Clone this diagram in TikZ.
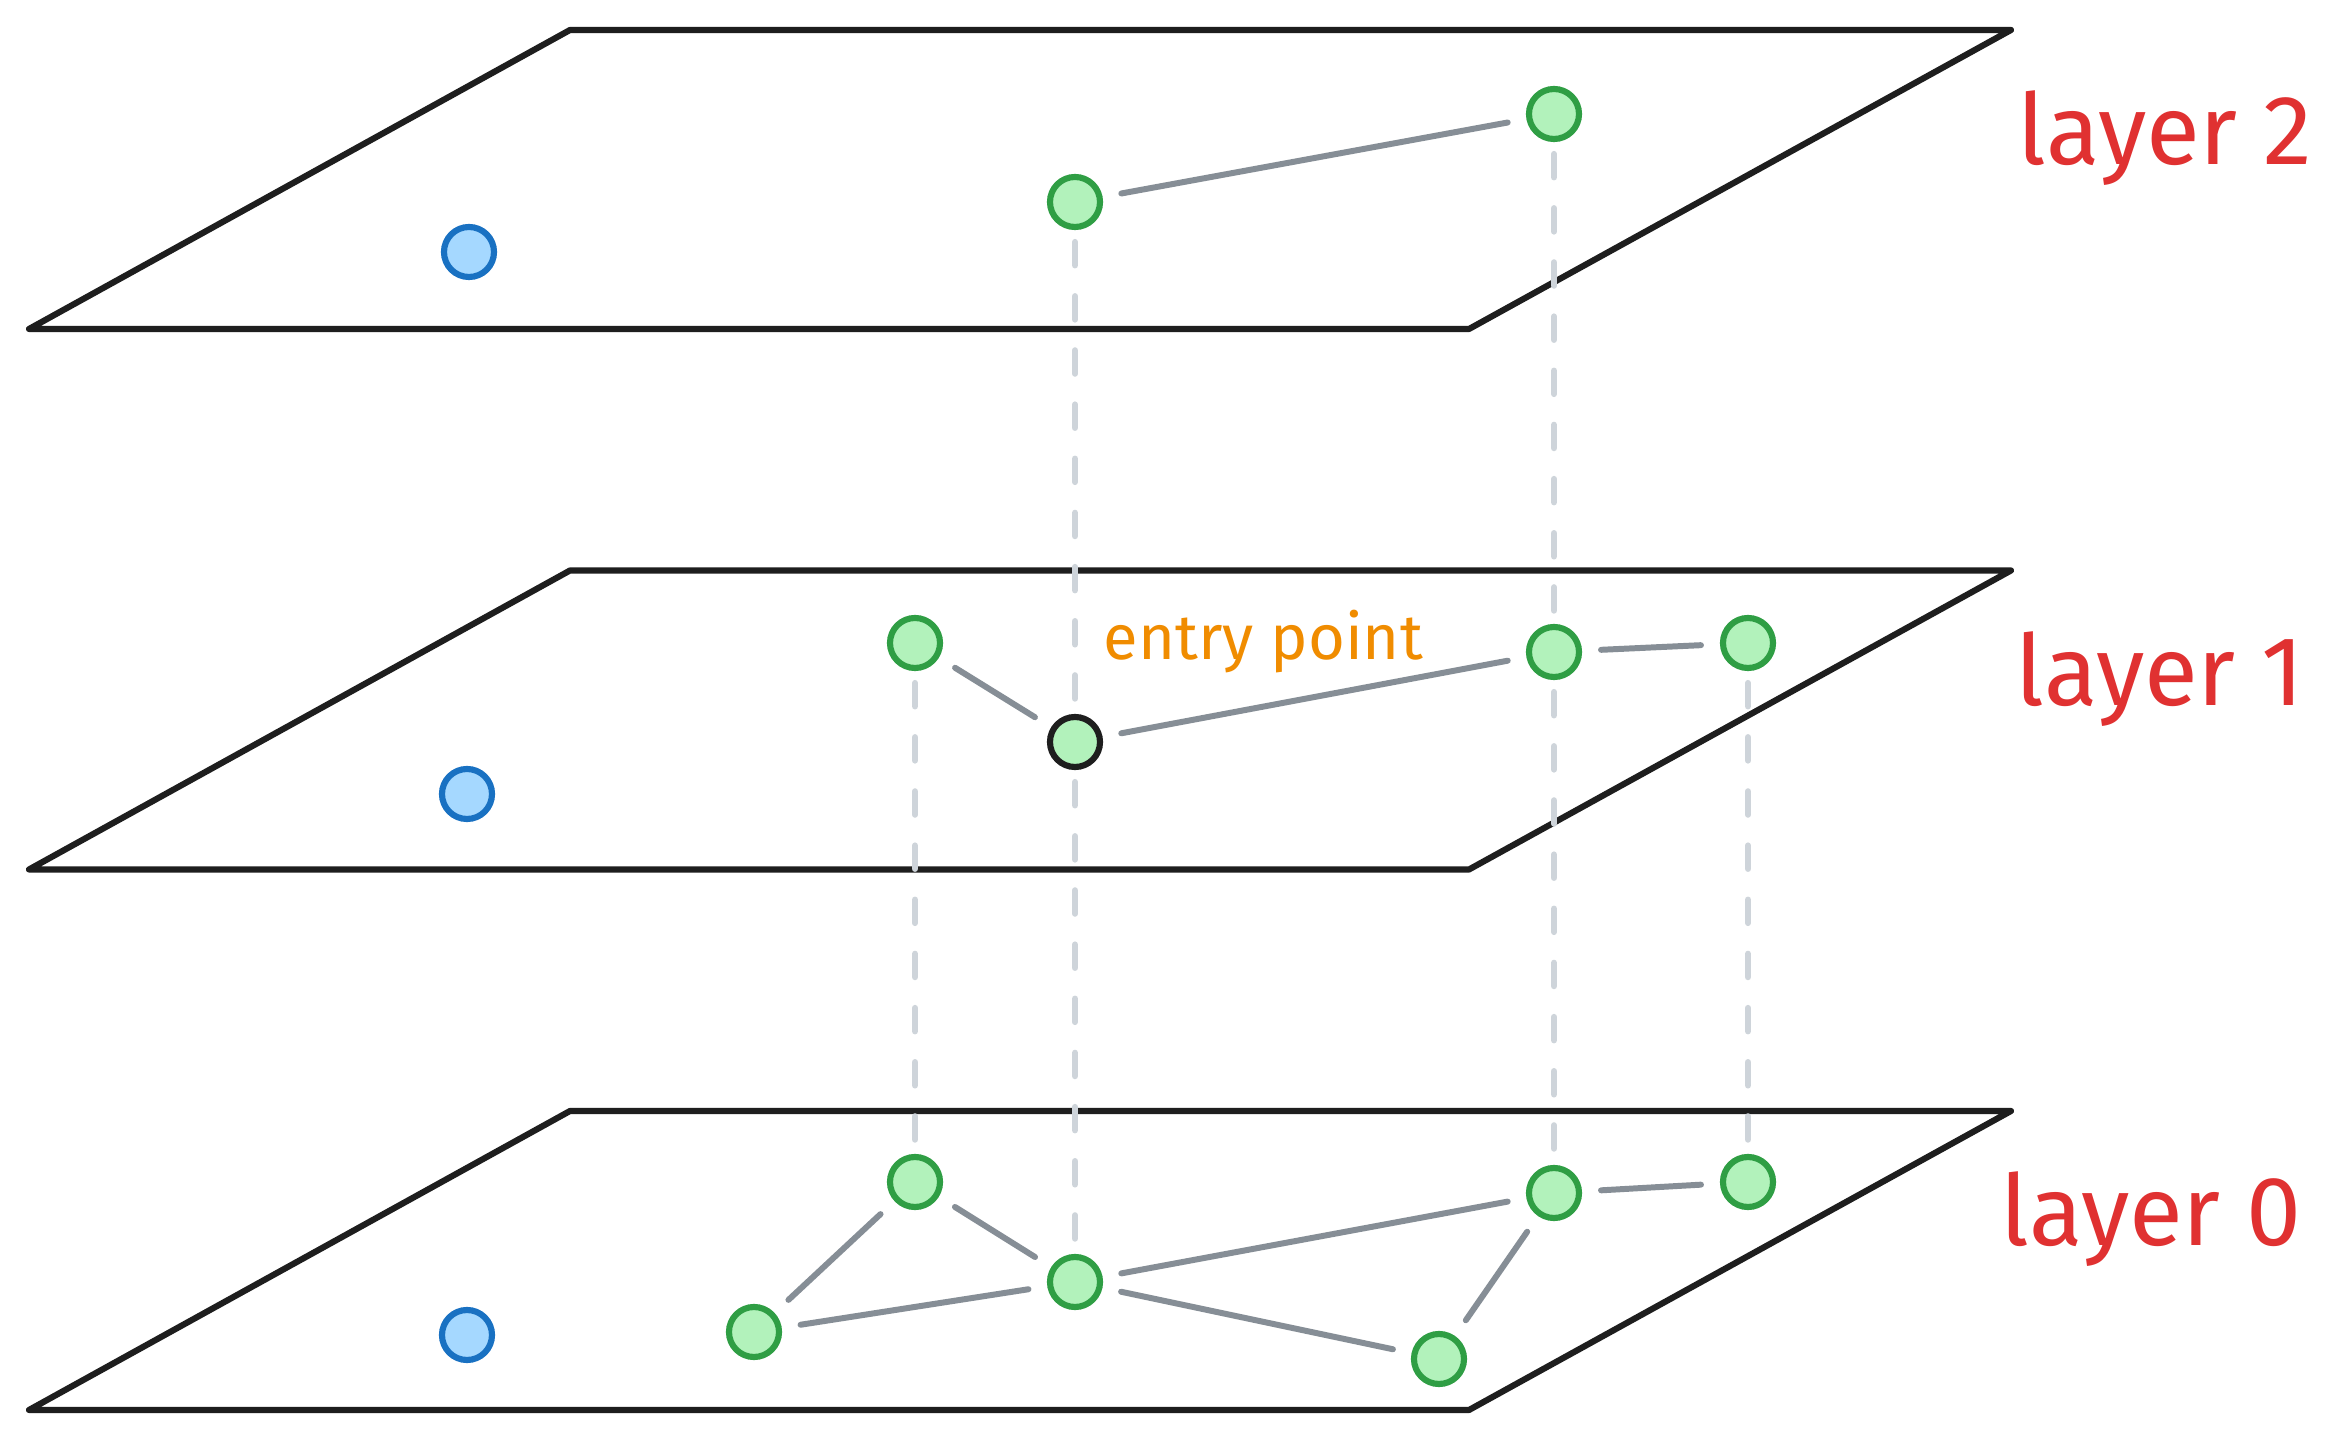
\documentclass[tikz,border=0pt]{standalone}
\usepackage{fontspec}
\newfontfamily\hand{Fira Sans}
\definecolor{ink}{HTML}{1E1E1E}
\definecolor{gstroke}{HTML}{2F9E44}
\definecolor{gfill}{HTML}{B2F2BB}
\definecolor{bstroke}{HTML}{1971C2}
\definecolor{bfill}{HTML}{A5D8FF}
\definecolor{edgegray}{HTML}{868E96}
\definecolor{dashgray}{HTML}{CED4DA}
\definecolor{lred}{HTML}{E03131}
\definecolor{lorange}{HTML}{F08C00}
\tikzset{
  plane/.style={draw=ink, line width=1.75pt, line join=round, line cap=round},
  gnode/.style={circle, draw=gstroke, fill=gfill, line width=1.75pt, minimum size=0.5cm, inner sep=0pt},
  bnode/.style={gnode, draw=bstroke, fill=bfill},
  enode/.style={gnode, draw=ink},
  link/.style={draw=edgegray, line width=1.7pt, line cap=round, shorten >=0.19cm, shorten <=0.19cm},
  vlink/.style={draw=dashgray, line width=1.8pt, line cap=round, dash pattern=on 6.6pt off 8.8pt, shorten >=0.12cm, shorten <=0.12cm},
  lbl/.style={text=lred, font=\hand\fontsize{28}{30}\selectfont, anchor=base west, inner sep=0pt},
}
\begin{document}
\begin{tikzpicture}[x=0.01cm, y=-0.01cm]
\useasboundingbox (0,0) rectangle (2341,1440);
\fill[white] (0,0) rectangle (2341,1440);

% planes
\foreach \yy in {30,570.5,1111}{
  \draw[plane] (570,\yy) -- (2011,\yy) -- (1469,\yy+299) -- (29,\yy+299) -- cycle;
}

% nodes layer 2
\node[bnode] (b2) at (469,252) {};
\node[gnode] (g2a) at (1075,202) {};
\node[gnode] (g2b) at (1554,114) {};
% layer 1
\node[bnode] (b1) at (467,794) {};
\node[gnode] (g1a) at (915,643) {};
\node[enode] (e1) at (1075,742) {};
\node[gnode] (g1c) at (1554,652) {};
\node[gnode] (g1d) at (1748,643) {};
% layer 0
\node[bnode] (b0) at (467,1335) {};
\node[gnode] (g0a) at (915,1182) {};
\node[gnode] (g0b) at (754,1332) {};
\node[gnode] (g0c) at (1075,1282) {};
\node[gnode] (g0d) at (1439,1359) {};
\node[gnode] (g0e) at (1554,1193) {};
\node[gnode] (g0f) at (1748,1182) {};

% vertical dashed links
\draw[vlink] (g2a) -- (e1);
\draw[vlink] (e1) -- (g0c);
\draw[vlink] (g2b) -- (g1c);
\draw[vlink] (g1c) -- (g0e);
\draw[vlink] (g1a) -- (g0a);
\draw[vlink] (g1d) -- (g0f);

% edges layer 2
\draw[link] (g2a) -- (g2b);
% edges layer 1
\draw[link] (g1a) -- (e1);
\draw[link] (e1) -- (g1c);
\draw[link] (g1c) -- (g1d);
% edges layer 0
\draw[link] (g0a) -- (g0b);
\draw[link] (g0b) -- (g0c);
\draw[link] (g0a) -- (g0c);
\draw[link] (g0c) -- (g0e);
\draw[link] (g0c) -- (g0d);
\draw[link] (g0d) -- (g0e);
\draw[link] (g0e) -- (g0f);

% labels
\node[lbl] (l2) at (2017,165) {layer 2};
\node[lbl] (l1) at (2015,706) {layer 1};
\node[lbl] (l0) at (2000,1245) {layer 0};
\node[lbl, text=lorange, font=\hand\fontsize{18}{20}\selectfont] (ep) at (1103,660) {entry point};
\end{tikzpicture}
\end{document}
